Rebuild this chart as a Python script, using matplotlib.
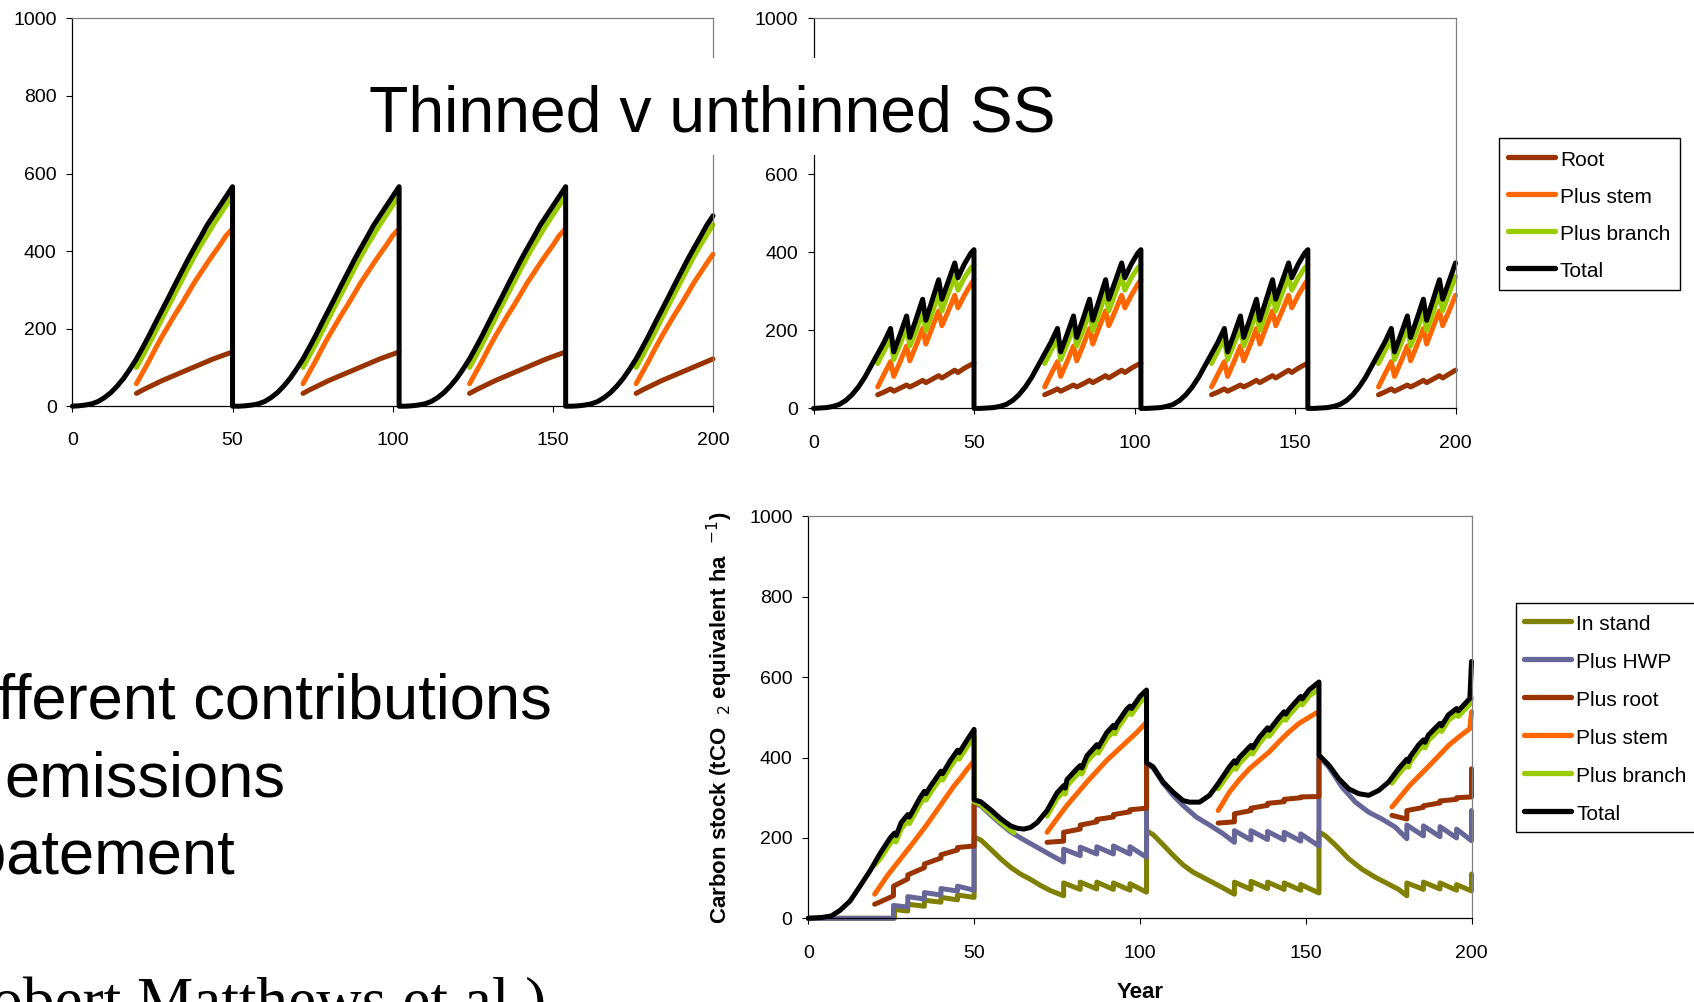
import numpy as np
import matplotlib
matplotlib.use("Agg")
import matplotlib.pyplot as plt
from matplotlib.patches import Rectangle

W, H = 1694, 1002
plt.rcParams['font.family'] = ['Liberation Sans', 'DejaVu Sans']

# ---------------------------------------------------------------- colours
C_ROOT = '#993300'
C_STEM = '#FF6600'
C_BRANCH = '#99CC00'
C_TOTAL = '#000000'
C_INSTAND = '#808000'
C_HWP = '#666699'

# ---------------------------------------------------------------- axes ticks
year_ticks = [0, 50, 100, 150, 200]
stock_ticks = [0, 200, 400, 600, 800, 1000]

# ---------------------------------------------------------------- upper charts
# first year of each rotation (stand felled at age 50, replanted two years on)
rotation_starts = [0, 52, 104, 156]

# unthinned Sitka spruce, carbon stock by stand age (tCO2e/ha)
unthinned_total_age = [0, 2, 4, 6, 8, 10, 12, 14, 16, 18, 20, 22, 24, 26, 28,
                       30, 32, 34, 36, 38, 40, 42, 44, 46, 48, 50]
unthinned_total = [0, 1, 3, 6, 12, 22, 35, 52, 72, 96, 122, 152, 183, 216, 248,
                   280, 313, 345, 377, 407, 436, 466, 491, 516, 541, 566]
unthinned_part_age = [20, 22, 24, 26, 28, 30, 32, 34, 36, 38, 40, 42, 44, 46, 48, 50]
unthinned_root = [33, 42, 50, 58, 66, 73, 80, 87, 94, 101, 108, 115, 122, 128, 134, 140]
unthinned_stem = [58, 88, 118, 150, 180, 208, 236, 262, 290, 318, 343, 368, 392, 415, 440, 458]
unthinned_branch = [100, 130, 161, 193, 226, 258, 290, 322, 354, 385, 414, 441, 468, 493, 518, 544]

# thinned Sitka spruce (thinnings every five years from age 25)
thinned_total_age = [0, 2, 4, 6, 8, 10, 12, 14, 16, 18, 20, 22, 24, 25, 27, 29, 30,
                     32, 34, 35, 37, 39, 40, 42, 44, 45, 47, 49, 50]
thinned_total = [0, 1, 2, 5, 10, 20, 35, 55, 80, 110, 140, 170, 205, 145, 190, 237, 182,
                 230, 280, 226, 278, 330, 280, 326, 373, 335, 370, 398, 407]
thinned_part_age = [20, 22, 24, 25, 27, 29, 30, 32, 34, 35, 37, 39, 40, 42, 44, 45, 47, 49, 50]
thinned_root = [35, 42, 50, 44, 52, 60, 55, 63, 72, 66, 75, 84, 78, 88, 98, 92, 103, 112, 116]
thinned_stem = [55, 88, 120, 82, 120, 160, 122, 162, 205, 165, 208, 250, 212, 250, 290,
                258, 290, 318, 330]
thinned_branch = [115, 148, 178, 125, 165, 208, 160, 200, 248, 200, 245, 295, 250, 295,
                  338, 303, 335, 360, 368]

upper_labels = ['Root', 'Plus stem', 'Plus branch', 'Total']
upper_colors = [C_ROOT, C_STEM, C_BRANCH, C_TOTAL]

# ---------------------------------------------------------------- lower chart
nan = np.nan
instand_year = [0, 26, 26, 30, 30, 35, 35, 40, 40, 45, 45, 50, 50,
                52, 55, 58, 61, 64, 67, 70, 73, 77, 77, 82, 82, 87, 87, 92, 92, 97, 97, 102, 102,
                104, 107, 110, 113, 116, 119, 122, 125, 128.5, 128.5, 133.5, 133.5, 138.5, 138.5,
                143.5, 143.5, 148.5, 148.5, 154, 154,
                156, 159, 163, 167, 171, 175, 178, 180.5, 180.5, 185.5, 185.5, 190.5, 190.5,
                195.5, 195.5, 200, 200]
instand = [0, 0, 22, 18, 35, 30, 45, 40, 52, 46, 58, 52, 202,
           195, 172, 148, 127, 110, 97, 82, 69, 56, 88, 72, 90, 73, 90, 72, 88, 70, 86, 65, 218,
           208, 183, 157, 133, 115, 102, 89, 76, 60, 90, 72, 92, 74, 90,
           72, 88, 70, 84, 63, 215,
           205, 182, 148, 122, 102, 85, 72, 56, 88, 72, 90, 73, 88,
           70, 84, 68, 110]

hwp_year = [0, 25.7, 25.7, 30, 30, 35, 35, 40, 40, 45, 45, 50, 50,
            52, 55, 58, 61, 64, 67, 70, 73, 77, 77, 82, 82, 87, 87, 92, 92, 97, 97, 102, 102,
            104, 107, 110, 113, 117, 121, 125, 128.5, 128.5, 133.5, 133.5, 138.5, 138.5,
            143.5, 143.5, 148.5, 148.5, 154, 154,
            157, 161, 165, 169, 173, 177, 180.5, 180.5, 185.5, 185.5, 190.5, 190.5,
            195.5, 195.5, 200, 200]
hwp = [0, 0, 32, 28, 54, 48, 64, 58, 74, 68, 80, 70, 286,
       280, 257, 235, 215, 200, 186, 172, 158, 140, 172, 156, 177, 160, 178, 160, 180, 160, 178, 152, 385,
       374, 336, 306, 281, 252, 232, 211, 189, 218, 195, 218, 196, 216,
       195, 214, 192, 210, 180, 403,
       376, 326, 289, 264, 247, 227, 198, 232, 205, 230, 203, 228,
       200, 222, 193, 268]

root_year = [20, 22, 25.7, 25.7, 30, 30, 35, 35, 40, 40, 45, 45, 50, 50, nan,
             72, 77, 77, 82, 82, 87, 87, 92, 92, 97, 97, 102, 102, nan,
             123.6, 128.5, 128.5, 133.5, 133.5, 138.5, 138.5, 143.5, 143.5, 148.5, 148.5, 154, 154, nan,
             176, 180.5, 180.5, 185.5, 185.5, 190.5, 190.5, 195.5, 195.5, 200, 200]
root = [35, 42, 56, 80, 98, 108, 126, 135, 150, 158, 170, 176, 180, 282, nan,
        189, 192, 214, 222, 232, 240, 246, 252, 258, 265, 270, 274, 381, nan,
        237, 240, 260, 268, 274, 281, 286, 290, 296, 300, 302, 303, 397, nan,
        256, 247, 268, 276, 280, 287, 292, 296, 300, 302, 372]

stem_year = [20, 24, 28, 32, 36, 40, 44, 46, 48, 50, nan,
             72, 75, 78, 81, 84, 87, 90, 93, 96, 99, 102, nan,
             123.6, 127, 130, 133, 136, 139, 142, 145, 148, 151, 154, nan,
             176, 178.7, 181.4, 184.4, 187.4, 190.3, 193.2, 196.3, 199.5, 200]
stem = [60, 108, 150, 192, 236, 283, 330, 350, 372, 392, nan,
        214, 248, 281, 310, 339, 366, 393, 416, 439, 462, 488, nan,
        268, 314, 345, 372, 393, 414, 440, 464, 485, 500, 515, nan,
        277, 304, 331, 356, 381, 406, 431, 452, 472, 514]

branch_year = [20, 21.7, 24.7, 26, 26.5, 28, 30, 30.5, 33.7, 35, 35.5, 36.8, 40, 40.5, 42.8,
               45, 45.5, 48, 50, 50, 52, 55, 58, 61, 62, nan,
               72, 75, 77, 77.5, 78, 81, 82, 82.5, 84, 87, 87.5, 90, 92, 92.5, 93, 96, 97, 97.5,
               100, 102, nan,
               123.6, 127, 128.5, 129, 130, 133, 133.5, 134, 136, 138.5, 139, 142, 143.5, 144,
               145, 148, 148.5, 149, 151, 154, nan,
               176, 178, 180.5, 181, 181.5, 184, 185.5, 186, 187, 190, 190.5, 191, 193, 195.5,
               196, 199.5, 200]
branch = [132, 148, 186, 196, 190, 222, 242, 236, 284, 300, 294, 312, 350, 344, 376,
          402, 396, 428, 452, 290, 283, 261, 239, 219, 213, nan,
          254, 298, 315, 309, 330, 357, 365, 359, 389, 417, 411, 447, 465, 459, 469, 505, 513, 507,
          537, 552, nan,
          322, 362, 377, 371, 385, 411, 415, 409, 435, 459, 453, 485, 499, 493,
          505, 533, 537, 531, 553, 570, nan,
          336, 358, 382, 376, 388, 417, 430, 424, 442, 467, 471, 465, 492, 508,
          502, 533, 548]

total_year = [0, 4, 7, 9.6, 12.6, 15.6, 18.6, 21.7, 24.7, 26, 26.5, 28, 30, 30.5, 33.7, 35,
              35.5, 36.8, 40, 40.5, 42.8, 45, 45.5, 48, 50, 50,
              52, 55, 58, 61, 63, 65, 67, 69, 72, 75, 77, 77.5, 78, 81, 82, 82.5, 84, 87, 87.5,
              90, 92, 92.5, 93, 96, 97, 97.5, 100, 102, 102,
              104, 107, 110, 113, 115, 118, 121, 123.6, 127, 128.5, 129, 130, 133, 133.5, 134,
              136, 138.5, 139, 142, 143.5, 144, 145, 148, 148.5, 149, 151, 154, 154,
              157, 160, 163, 166, 169, 172, 175, 176, 178, 180.5, 181, 181.5, 184, 185.5, 186,
              187, 190, 190.5, 191, 193, 195.5, 196, 199.5, 200]
total = [0, 2, 6, 20, 43, 80, 118, 162, 200, 212, 206, 238, 258, 252, 300, 316,
         310, 328, 366, 360, 392, 418, 412, 445, 470, 295,
         290, 270, 248, 230, 224, 222, 226, 238, 268, 312, 330, 324, 345, 372, 380, 374, 404, 432, 426,
         462, 480, 474, 484, 520, 528, 522, 552, 568, 387,
         377, 339, 314, 293, 289, 289, 306, 335, 377, 392, 386, 400, 426, 430, 424,
         450, 474, 468, 500, 514, 508, 520, 548, 552, 546, 568, 588, 406,
         381, 347, 322, 310, 306, 318, 339, 350, 372, 396, 390, 402, 431, 444, 438,
         456, 481, 485, 479, 506, 522, 516, 547, 639]

lower_series = [
    ('In stand', C_INSTAND, instand_year, instand),
    ('Plus HWP', C_HWP, hwp_year, hwp),
    ('Plus root', C_ROOT, root_year, root),
    ('Plus stem', C_STEM, stem_year, stem),
    ('Plus branch', C_BRANCH, branch_year, branch),
    ('Total', C_TOTAL, total_year, total),
]

LW = 3.6


def along_rotations(ages, values, starts, end=200, after_fell=None):
    """Repeat one rotation's curve for every rotation start, cut at `end`."""
    xs, ys = [], []
    for s in starts:
        for a, v in zip(ages, values):
            if s + a > end:
                break
            xs.append(s + a)
            ys.append(v)
        if s + ages[-1] <= end:
            if after_fell is not None:
                xs.append(s + ages[-1])
                ys.append(after_fell)
            else:
                xs.append(np.nan)
                ys.append(np.nan)
    return xs, ys


def style_axes(ax, xpad=14.5, ypad=7, hidden_label=None):
    ax.set_xlim(0, 200)
    ax.set_ylim(0, 1000)
    ax.set_xticks(year_ticks)
    ax.set_yticks(stock_ticks)
    # a tick label lying under the title panel is left blank
    ax.set_yticklabels(['' if t == hidden_label else str(t) for t in stock_ticks])
    ax.tick_params(direction='out', length=4.3, width=0.8, labelsize=14, colors='black')
    ax.tick_params(axis='x', pad=xpad)
    ax.tick_params(axis='y', pad=ypad)
    for side in ('left', 'bottom'):
        ax.spines[side].set_color('black')
        ax.spines[side].set_linewidth(0.9)
    for side in ('top', 'right'):
        ax.spines[side].set_color('#808080')
        ax.spines[side].set_linewidth(0.9)


def px_rect(left, top, right, bottom):
    return [left / W, 1 - bottom / H, (right - left) / W, (bottom - top) / H]


fig = plt.figure(figsize=(W / 100, H / 100), dpi=100)

ax_u = fig.add_axes(px_rect(72.4, 18.4, 713, 406.2))
ax_t = fig.add_axes(px_rect(813.5, 18.4, 1455.5, 408.4))
ax_b = fig.add_axes(px_rect(808.3, 516.4, 1471.5, 918.3))


def draw_upper(ax, part_age, parts, total_age, total_vals, hidden_label=None):
    handles = []
    for vals, col in zip(parts, upper_colors[:3]):
        xs, ys = along_rotations(part_age, vals, rotation_starts)
        h, = ax.plot(xs, ys, color=col, lw=LW, solid_capstyle='round',
                     solid_joinstyle='round', clip_on=False)
        handles.append(h)
    xs, ys = along_rotations(total_age, total_vals, rotation_starts, after_fell=0)
    h, = ax.plot(xs, ys, color=C_TOTAL, lw=LW, solid_capstyle='round',
                 solid_joinstyle='round', clip_on=False)
    handles.append(h)
    style_axes(ax, hidden_label=hidden_label)
    return handles


draw_upper(ax_u, unthinned_part_age, [unthinned_root, unthinned_stem, unthinned_branch],
           unthinned_total_age, unthinned_total)
h_upper = draw_upper(ax_t, thinned_part_age, [thinned_root, thinned_stem, thinned_branch],
                     thinned_total_age, thinned_total, hidden_label=800)

h_lower = []
for label, col, xs, ys in lower_series:
    h, = ax_b.plot(xs, ys, color=col, lw=LW, solid_capstyle='round',
                   solid_joinstyle='round', clip_on=False)
    h_lower.append(h)
style_axes(ax_b, xpad=15)

# legends
leg_kw = dict(loc='upper left', bbox_transform=fig.transFigure, borderaxespad=0,
              fontsize=15, handlelength=2.25, handleheight=1.26, handletextpad=0.25,
              fancybox=False, shadow=False, framealpha=1, edgecolor='black')
leg1 = fig.legend(h_upper, upper_labels, bbox_to_anchor=(1498.5 / W, 1 - 138.3 / H),
                  labelspacing=0.71, borderpad=0.45, **leg_kw)
leg2 = fig.legend(h_lower, [s[0] for s in lower_series],
                  bbox_to_anchor=(1515.7 / W, 1 - 603.3 / H),
                  labelspacing=0.76, borderpad=0.4, **leg_kw)
for leg in (leg1, leg2):
    leg.get_frame().set_linewidth(1.0)
    for line in leg.get_lines():
        line.set_linewidth(3.8)
        line.set_solid_capstyle('round')

# axis labels of the lower chart
fig.text(1140 / W, 1 - 993 / H, 'Year', ha='center', va='center',
         fontsize=16, fontweight='bold')
fig.text(720 / W, 1 - 718 / H,
         r'Carbon stock (tCO  $_{2}$ equivalent ha  $^{-1}$)',
         rotation=90, ha='center', va='center', fontsize=16, fontweight='bold')

# slide title on a white panel
fig.patches.append(Rectangle((362 / W, 1 - 155 / H), (1062 - 362) / W, (155 - 58) / H,
                             transform=fig.transFigure, facecolor='white',
                             edgecolor='none', zorder=5))
fig.text(712 / W, 1 - 131.7 / H, 'Thinned v unthinned SS', ha='center', va='baseline',
         fontsize=46.3, zorder=6)

# slide bullet text
body = 45.5
fig.text(552 / W, 1 - 718.3 / H, 'Different contributions', ha='right', va='baseline',
         fontsize=body)
fig.text(285 / W, 1 - 796.7 / H, 'emissions', ha='right', va='baseline', fontsize=body)
fig.text(235.5 / W, 1 - 873.3 / H, 'abatement', ha='right', va='baseline', fontsize=body)
fig.text(546 / W, 1 - 1021 / H, '(Robert Matthews et al.)', ha='right', va='baseline',
         fontsize=45.5, family=['Liberation Serif', 'DejaVu Serif'])

fig.savefig('out.png', dpi=100)
